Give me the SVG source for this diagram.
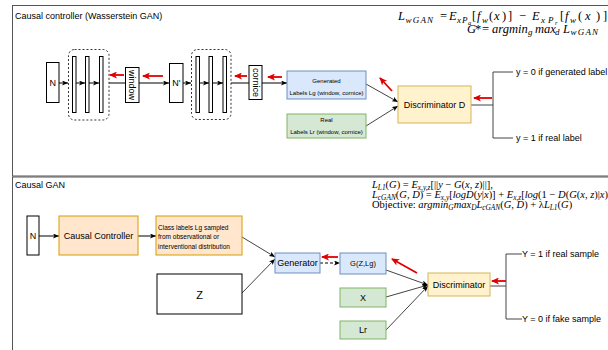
<svg xmlns="http://www.w3.org/2000/svg" width="608" height="350" viewBox="0 0 608 350">
  <style>
    text { font-family: "Liberation Sans", Arial, sans-serif; fill: #000; }
    .t9 { font-size: 9px; }
    .t6 { font-size: 6px; }
    .mid { text-anchor: middle; dominant-baseline: central; }
    .lft { dominant-baseline: central; }
    .panel { fill: #fff; stroke: #555; stroke-width: 1; }
    .box { fill: #fff; stroke: #000; stroke-width: 1; }
    .grp { fill: none; stroke: #333; stroke-width: 1; stroke-dasharray: 2 2; }
    .blue { fill: #dae8fc; stroke: #6c8ebf; stroke-width: 1; }
    .green { fill: #d5e8d4; stroke: #82b366; stroke-width: 1; }
    .yellow { fill: #fff2cc; stroke: #d6b656; stroke-width: 1; }
    .orange { fill: #ffe6cc; stroke: #d79b00; stroke-width: 1; }
    .edge { fill: none; stroke: #000; stroke-width: 1; }
    .gray { fill: none; stroke: #444; stroke-width: 1; }
    .arr { marker-end: url(#ah); }
    .red { fill: none; stroke: #e00000; stroke-width: 1.8; marker-end: url(#rh); }
    .m text { font-family: "Liberation Serif", "Times New Roman", serif; font-style: italic; }
    .m .u { font-style: normal; }
    .s { font-size: 70%; }
    .big .s1 { font-size: 9px; }
    .big .s2 { font-size: 6.5px; }
    .big .wide { letter-spacing: 1.2px; }
  </style>
  <defs>
    <marker id="ah" markerWidth="6" markerHeight="5" refX="6" refY="2.5" orient="auto" markerUnits="userSpaceOnUse">
      <path d="M0,0 L6,2.5 L0,5 L1.5,2.5 z" fill="#000"/>
    </marker>
    <marker id="rh" markerWidth="8" markerHeight="7" refX="7" refY="3.5" orient="auto" markerUnits="userSpaceOnUse">
      <path d="M0,0 L8,3.5 L0,7 L2,3.5 z" fill="#e00000"/>
    </marker>
  </defs>

  <!-- panels -->
  <g id="panel-top">
    <rect class="panel" x="12.5" y="5.5" width="620" height="170.5"/>
    <text class="t9" x="15" y="19">Causal controller (Wasserstein GAN)</text>
  </g>
  <g id="panel-bottom">
    <rect class="panel" x="12.5" y="177" width="620" height="190"/>
    <text class="t9" x="15" y="188">Causal GAN</text>
  </g>

  <!-- Wasserstein loss, typeset token by token -->
  <g id="formula-wgan" class="m big" font-size="12.5">
    <text><tspan x="398" y="19.5">L</tspan><tspan class="s1 wide" x="405.5" y="22.5">wGAN</tspan><tspan class="u" x="440" y="19.5">=</tspan><tspan x="449" y="19.5">E</tspan><tspan class="s1" x="457" y="22.5">x</tspan><tspan class="s1" x="462" y="22.5">P</tspan><tspan class="s2" x="468" y="24.5">a</tspan><tspan class="u" x="472" y="19.5">[</tspan><tspan x="477" y="19.5">f</tspan><tspan class="s1" x="482" y="22.5">w</tspan><tspan class="u" x="489" y="19.5">(</tspan><tspan x="494" y="19.5">x</tspan><tspan class="u" x="502" y="19.5">)</tspan><tspan class="u" x="508" y="19.5">]</tspan><tspan class="u" x="519" y="19.5">−</tspan><tspan x="532" y="19.5">E</tspan><tspan class="s1" x="541" y="22.5">x</tspan><tspan class="s1" x="548" y="22.5">P</tspan><tspan class="s2" x="555" y="24.5">r</tspan><tspan class="u" x="560" y="19.5">[</tspan><tspan x="565" y="19.5">f</tspan><tspan class="s1" x="570" y="22.5">w</tspan><tspan class="u" x="578" y="19.5">(</tspan><tspan x="585" y="19.5">x</tspan><tspan class="u" x="596" y="19.5">)</tspan><tspan class="u" x="603" y="19.5">]</tspan></text>
    <text><tspan x="467" y="32.5">G</tspan><tspan class="u" x="475" y="32.5">*</tspan><tspan class="u" x="482" y="32.5">=</tspan><tspan x="492" y="32.5">argmin</tspan><tspan class="s1" x="528" y="35">g</tspan><tspan x="535" y="32.5">max</tspan><tspan class="s1" x="555" y="35">d</tspan><tspan x="563" y="32.5">L</tspan><tspan class="s1 wide" x="570.5" y="35">wGAN</tspan></text>
  </g>
  <!-- conditional GAN losses -->
  <g id="formula-cgan" class="m" font-size="10.5">
    <text x="372" y="188">L<tspan class="s" dy="2">L1</tspan><tspan class="u" dy="-2">(</tspan>G<tspan class="u">) = </tspan>E<tspan class="s" dy="2">x,y,z</tspan><tspan class="u" dy="-2">[||</tspan>y<tspan class="u"> − </tspan>G<tspan class="u">(</tspan>x, z<tspan class="u">)||],</tspan></text>
    <text x="372" y="198">L<tspan class="s" dy="2">cGAN</tspan><tspan class="u" dy="-2">(</tspan>G, D<tspan class="u">) = </tspan>E<tspan class="s" dy="2">x,y</tspan><tspan class="u" dy="-2">[</tspan>logD<tspan class="u">(</tspan>y<tspan class="u">|</tspan>x<tspan class="u">)] + </tspan>E<tspan class="s" dy="2">x,z</tspan><tspan class="u" dy="-2">[</tspan>log<tspan class="u">(1 − </tspan>D<tspan class="u">(</tspan>G<tspan class="u">(</tspan>x, z<tspan class="u">)|</tspan>x<tspan class="u">))]</tspan></text>
    <text x="372" y="208"><tspan class="u">Objective: </tspan>argmin<tspan class="s" dy="2">G</tspan><tspan dy="-2">max</tspan><tspan class="s" dy="2">D</tspan><tspan dy="-2">L</tspan><tspan class="s" dy="2">cGAN</tspan><tspan class="u" dy="-2">(</tspan>G, D<tspan class="u">) + λ</tspan>L<tspan class="s" dy="2">L1</tspan><tspan class="u" dy="-2">(</tspan>G<tspan class="u">)</tspan></text>
  </g>

  <!-- connectors -->
  <g id="connectors">
    <!-- top: causal controller chain -->
    <path class="edge arr" d="M59,83 H68"/>
    <path class="edge arr" d="M76,83 H85"/>
    <path class="edge arr" d="M89,83 H99"/>
    <path class="edge" d="M109,83 H125"/>
    <path class="edge arr" d="M139,83 H169"/>
    <path class="edge arr" d="M183,83 H191"/>
    <path class="edge arr" d="M199.5,83 H209"/>
    <path class="edge arr" d="M212.5,83 H223"/>
    <path class="edge" d="M231,83 H249"/>
    <path class="edge arr" d="M262,83 H287"/>
    <path class="gray arr" d="M366,84 L398,102"/>
    <path class="gray arr" d="M366,126 L398,106"/>
    <path class="gray" d="M471,105 H493 M513,72 H493 V138 H513"/>
    <!-- top: gradient flow -->
    <path class="red" d="M124,75 H110"/>
    <path class="red" d="M163,76 H143"/>
    <path class="red" d="M247,76 H235"/>
    <path class="red" d="M282,77 H268"/>
    <path class="red" d="M392,91 L380,78"/>
    <path class="red" d="M492,98 H474"/>

    <!-- bottom: causal GAN -->
    <path class="edge arr" d="M39,236 H59"/>
    <path class="edge arr" d="M138,236 H156"/>
    <path class="gray arr" d="M242,237 L275,257"/>
    <path class="gray arr" d="M242,293 L275,259"/>
    <path class="edge arr" d="M320,263 H340" stroke-dasharray="3 2"/>
    <path class="gray arr" d="M386,270 L428,285"/>
    <path class="gray arr" d="M386,297 L428,285"/>
    <path class="gray arr" d="M386,330 L428,286"/>
    <path class="gray" d="M490,286 H506 M522,254 H506 V319 H522"/>
    <!-- bottom: gradient flow -->
    <path class="red" d="M338,257 H322"/>
    <path class="red" d="M417,273 L392,259"/>
    <path class="red" d="M506,281 H492"/>
  </g>

  <!-- top panel nodes -->
  <g id="n-top">
    <rect class="box" x="46.5" y="62.5" width="12.5" height="40"/>
    <text class="t9 mid" x="52.75" y="82.5">N</text>
  </g>
  <g id="layers-1">
    <rect class="grp" x="68.5" y="49.5" width="40.5" height="70.5" rx="6"/>
    <rect class="box" x="72.5" y="56.5" width="3.5" height="56"/>
    <rect class="box" x="85.5" y="56.5" width="3.5" height="56"/>
    <rect class="box" x="99.5" y="56.5" width="3.5" height="56"/>
  </g>
  <g id="window">
    <rect class="box" x="125.5" y="67.5" width="13.5" height="35"/>
    <text class="t9 mid" transform="translate(132.25,85) rotate(90)">window</text>
  </g>
  <g id="n-prime">
    <rect class="box" x="169.5" y="63.5" width="13.5" height="39"/>
    <text class="t9 mid" x="176.25" y="83">N'</text>
  </g>
  <g id="layers-2">
    <rect class="grp" x="191.5" y="49.5" width="39.5" height="70" rx="6"/>
    <rect class="box" x="196" y="56.5" width="3.5" height="56"/>
    <rect class="box" x="209" y="56.5" width="3.5" height="56"/>
    <rect class="box" x="223" y="56.5" width="3.5" height="56"/>
  </g>
  <g id="cornice">
    <rect class="box" x="249" y="65.5" width="13" height="34"/>
    <text class="t9 mid" transform="translate(255.5,82.5) rotate(90)">cornice</text>
  </g>
  <g id="generated-labels">
    <rect class="blue" x="287" y="71" width="79" height="28"/>
    <text class="t6 mid" x="326.5" y="81">Generated</text>
    <text class="t6 mid" x="326.5" y="93">Labels Lg (window, cornice)</text>
  </g>
  <g id="real-labels">
    <rect class="green" x="287" y="114" width="79" height="24"/>
    <text class="t6 mid" x="326.5" y="119.5">Real</text>
    <text class="t6 mid" x="326.5" y="132">Labels Lr (window, cornice)</text>
  </g>
  <g id="discriminator-d">
    <rect class="yellow" x="398" y="86" width="73" height="37"/>
    <text class="t9 mid" x="434.5" y="105">Discriminator D</text>
  </g>
  <g id="out-top">
    <text class="t9 lft" x="516" y="72">y = 0 if generated label</text>
    <text class="t9 lft" x="516" y="138">y = 1 if real label</text>
  </g>

  <!-- bottom panel nodes -->
  <g id="n-bottom">
    <rect class="box" x="27" y="216" width="12" height="39"/>
    <text class="t9 mid" x="33" y="236">N</text>
  </g>
  <g id="causal-controller">
    <rect class="orange" x="59" y="216" width="79" height="39"/>
    <text class="t9 mid" x="98.5" y="236">Causal Controller</text>
  </g>
  <g id="class-labels">
    <rect class="orange" x="156" y="216" width="86" height="39"/>
    <text x="158" y="227" class="lft" font-size="6.5">Class labels Lg sampled</text>
    <text x="158" y="236.5" class="lft" font-size="6.5">from observational or</text>
    <text x="158" y="246" class="lft" font-size="6.5">interventional distribution</text>
  </g>
  <g id="z">
    <rect class="box" x="157" y="274" width="85" height="40"/>
    <text class="mid" x="199.5" y="294.5" font-size="11">Z</text>
  </g>
  <g id="generator">
    <rect class="blue" x="275" y="253" width="45" height="20"/>
    <text class="t9 mid" x="297.5" y="263">Generator</text>
  </g>
  <g id="g-z-lg">
    <rect class="blue" x="340" y="253" width="46" height="21"/>
    <text class="mid" x="363" y="263.5" font-size="7.5">G(Z,Lg)</text>
  </g>
  <g id="x">
    <rect class="green" x="340" y="288" width="46" height="19"/>
    <text class="t9 mid" x="363" y="297.5">X</text>
  </g>
  <g id="lr">
    <rect class="green" x="340" y="321" width="46" height="18"/>
    <text class="t9 mid" x="363" y="330">Lr</text>
  </g>
  <g id="discriminator">
    <rect class="yellow" x="428" y="273" width="62" height="23"/>
    <text class="t9 mid" x="459" y="284.5">Discriminator</text>
  </g>
  <g id="out-bottom">
    <text class="t9 lft" x="522" y="254">Y = 1 if real sample</text>
    <text class="t9 lft" x="522" y="319">Y = 0 if fake sample</text>
  </g>
</svg>
